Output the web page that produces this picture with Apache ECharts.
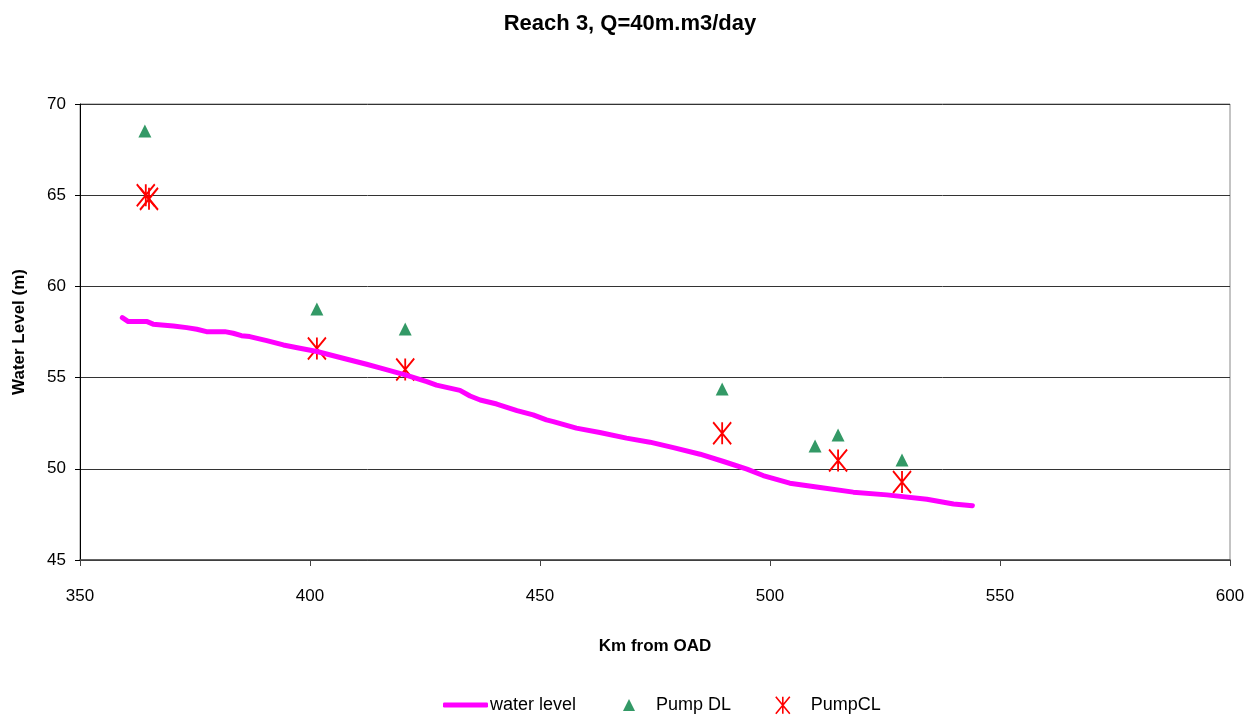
<!DOCTYPE html>
<html>
<head>
<meta charset="utf-8">
<script src="https://cdn.jsdelivr.net/npm/echarts@6/dist/echarts.min.js"></script>
<style>html,body{margin:0;padding:0;background:#fff}#c{width:1260px;height:720px}</style>
</head>
<body>
<div id="c"></div>
<script>
// Water level profile (km, m)
const waterKm = [359.2,360.5,364.6,365.9,370.3,373.2,375.4,377.5,381.5,383.3,385.1,386.9,390.6,394.2,397.8,401.5,407.2,412.3,415.2,420.7,425.4,427.5,432.6,434.8,437.0,440.6,445.0,448.5,451.4,452.9,457.9,463.0,468.8,473.9,479.0,484.8,489.9,495.0,498.5,504.3,510.9,518.1,525.4,534.1,539.9,544.0];
const waterLevel = [58.29,58.07,58.07,57.93,57.83,57.74,57.65,57.52,57.52,57.43,57.30,57.25,57.03,56.79,56.61,56.43,56.06,55.73,55.53,55.15,54.78,54.59,54.30,53.99,53.77,53.55,53.19,52.96,52.68,52.59,52.23,51.99,51.68,51.46,51.16,50.80,50.40,49.98,49.63,49.21,48.97,48.72,48.57,48.33,48.07,47.98];
// Pump DL
const pumpDLKm = [364.1,401.5,420.7,489.6,509.8,514.8,528.7];
const pumpDL = [68.52,58.76,57.66,54.37,51.25,51.85,50.48];
// PumpCL
const pumpCLKm = [364.3,365.0,401.5,420.7,489.6,514.8,528.7];
const pumpCL = [65.0,64.8,56.6,55.44,51.95,50.46,49.28];

const starPath = 'path://M0,0L10,12M10,0L0,12M5,0L5,12';
const font = 'Liberation Sans, Arial, sans-serif';

const chart = echarts.init(document.getElementById('c'));
chart.setOption({
  animation: false,
  backgroundColor: '#fff',
  title: {
    text: 'Reach 3, Q=40m.m3/day',
    left: 'center', top: 8,
    textStyle: {fontFamily: font, fontSize: 22, fontWeight: 'bold', color: '#000'}
  },
  grid: {left: 80, right: 30, top: 104, bottom: 160, show: true, borderColor: '#888', borderWidth: 1},
  xAxis: {
    type: 'value', min: 350, max: 600, interval: 50,
    name: 'Km from OAD', nameLocation: 'middle', nameGap: 78,
    nameTextStyle: {fontFamily: font, fontSize: 17, fontWeight: 'bold', color: '#000'},
    axisLine: {show: true, lineStyle: {color: '#444', width: 1.5}},
    axisTick: {show: true, length: 6, lineStyle: {color: '#444'}},
    axisLabel: {fontFamily: font, fontSize: 17, color: '#000', margin: 28},
    splitLine: {show: false}
  },
  yAxis: {
    type: 'value', min: 45, max: 70, interval: 5,
    name: 'Water Level (m)', nameLocation: 'middle', nameGap: 52,
    nameTextStyle: {fontFamily: font, fontSize: 17, fontWeight: 'bold', color: '#000'},
    axisLine: {show: true, lineStyle: {color: '#000', width: 1}},
    axisTick: {show: true, length: 5, lineStyle: {color: '#000'}},
    axisLabel: {fontFamily: font, fontSize: 17, color: '#000', margin: 14},
    splitLine: {show: true, lineStyle: {color: '#333', width: 1}}
  },
  legend: [
    {data: [{name: 'water level', icon: 'roundRect'}], left: 438, top: 691, itemWidth: 45, itemHeight: 5,
     textStyle: {fontFamily: font, fontSize: 18, color: '#000', padding: [0,0,0,-3]}},
    {data: [{name: 'Pump DL', icon: 'triangle'}], left: 618, top: 691, itemWidth: 12, itemHeight: 12,
     textStyle: {fontFamily: font, fontSize: 18, color: '#000', padding: [0,0,0,16]}},
    {data: [{name: 'PumpCL', icon: starPath, itemStyle: {color: 'transparent', borderColor: '#FF0000', borderWidth: 1.6}}],
     left: 770, top: 691, itemWidth: 14, itemHeight: 17, symbolKeepAspect: false,
     textStyle: {fontFamily: font, fontSize: 18, color: '#000', padding: [0,0,0,16]}}
  ],
  series: [
    {
      name: 'water level', type: 'line', symbol: 'none', smooth: false,
      data: waterKm.map((k, i) => [k, waterLevel[i]]),
      lineStyle: {color: '#FF00FF', width: 5, cap: 'round', join: 'round'},
      itemStyle: {color: '#FF00FF'}
    },
    {
      name: 'Pump DL', type: 'scatter', symbol: 'triangle', symbolSize: 13,
      data: pumpDLKm.map((k, i) => [k, pumpDL[i]]),
      itemStyle: {color: '#339966', opacity: 1}
    },
    {
      name: 'PumpCL', type: 'scatter', symbol: starPath, symbolSize: [18, 22], symbolKeepAspect: false,
      data: pumpCLKm.map((k, i) => [k, pumpCL[i]]),
      itemStyle: {color: 'transparent', borderColor: '#FF0000', borderWidth: 2, opacity: 1}
    }
  ]
});
</script>
</body>
</html>
